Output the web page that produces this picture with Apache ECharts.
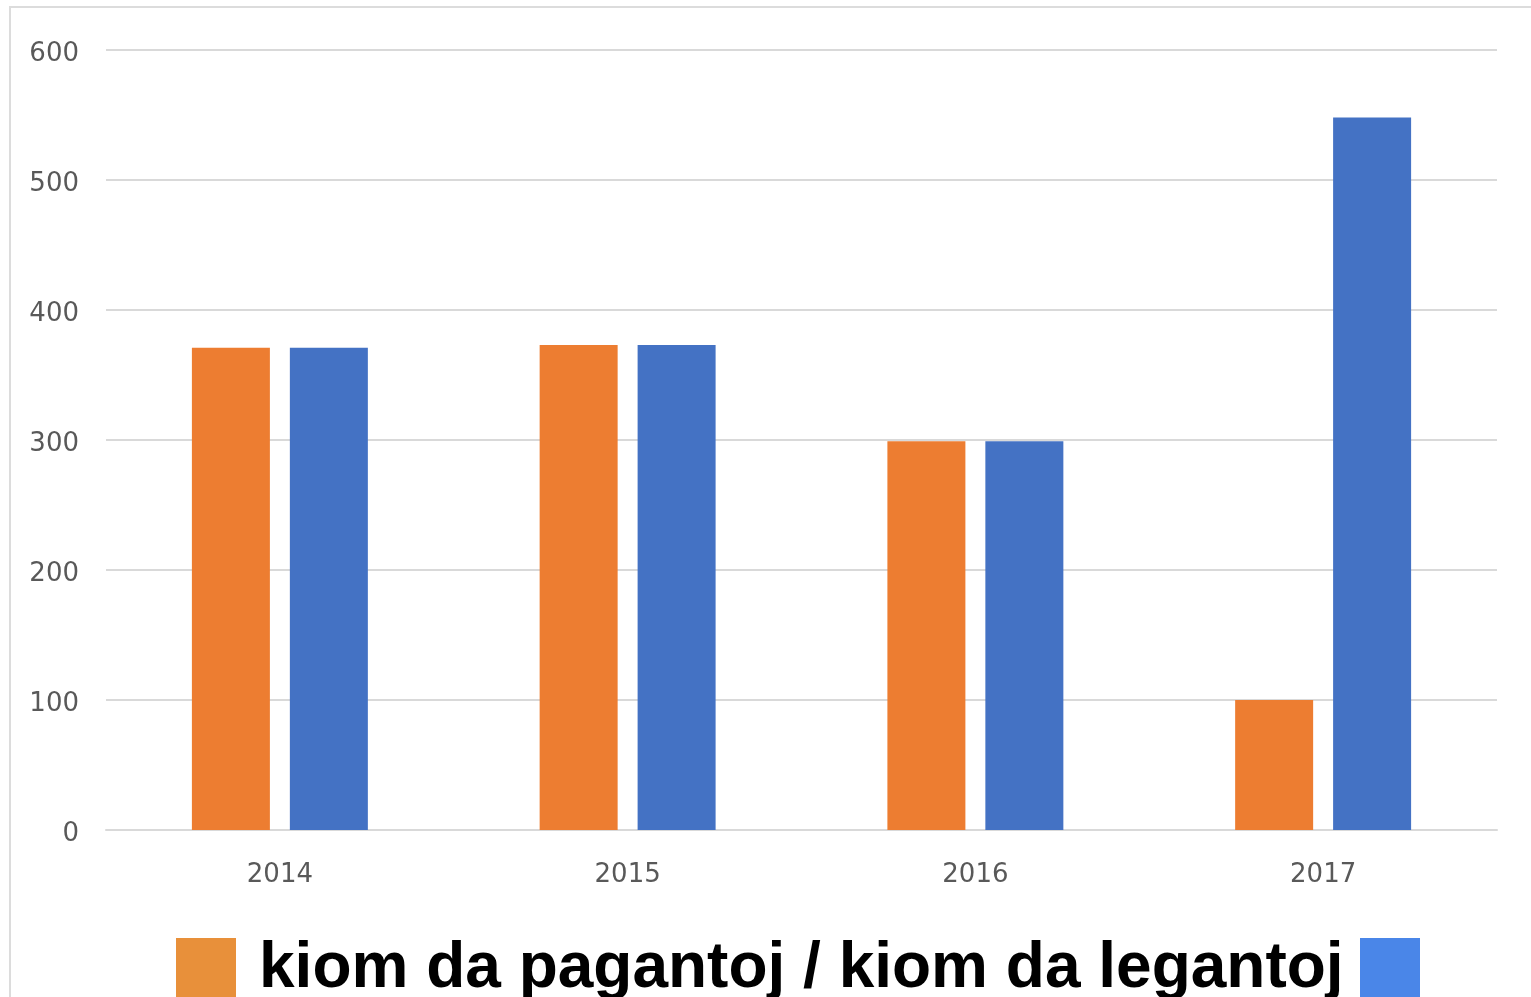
<!DOCTYPE html>
<html>
<head>
<meta charset="utf-8">
<script src="https://cdn.jsdelivr.net/npm/echarts@6/dist/echarts.min.js"></script>
<style>
  html, body { margin: 0; padding: 0; background: #fff; }
  #main { width: 1531px; height: 997px; }
</style>
</head>
<body>
<div id="main"></div>
<script>
// jaroj
const years = ["2014", "2015", "2016", "2017"];
// kiom da pagantoj
const payers = [371, 373, 299, 100];
// kiom da legantoj
const readers = [371, 373, 299, 548];
const yTicks = [0, 100, 200, 300, 400, 500, 600];

const chart = echarts.init(document.getElementById("main"));
chart.setOption({
  animation: false,
  backgroundColor: "#fff",
  grid: {
    left: 106,
    right: 34,
    top: 50,
    bottom: 167,
  },
  xAxis: {
    type: "category",
    data: years,
    axisLine: { show: true, lineStyle: { color: "#d9d9d9", width: 2 } },
    axisTick: { show: false },
    axisLabel: {
      color: "#595959",
      fontSize: 26,
      fontFamily: "DejaVu Sans",
      margin: 32,
    },
  },
  yAxis: {
    type: "value",
    min: yTicks[0],
    max: yTicks[yTicks.length - 1],
    interval: 100,
    axisLine: { show: false },
    axisTick: { show: false },
    splitLine: { lineStyle: { color: "#d9d9d9", width: 2 } },
    axisLabel: {
      margin: 27,
      formatter: "{a|{value}}",
      rich: {
        a: {
          color: "#595959",
          fontSize: 26,
          fontFamily: "DejaVu Sans",
          padding: [9, 0, 0, 0],
        },
      },
    },
  },
  series: [
    {
      name: "kiom da pagantoj",
      type: "bar",
      data: payers,
      barWidth: 78,
      barGap: "25.6%",
      itemStyle: { color: "#ED7D31" },
    },
    {
      name: "kiom da legantoj",
      type: "bar",
      data: readers,
      barWidth: 78,
      itemStyle: { color: "#4472C4" },
    },
  ],
  // kadro kaj legendo
  graphic: [
    { type: "rect", shape: { x: 10, y: 6, width: 1521, height: 2 }, style: { fill: "#dcdcdc" } },
    { type: "rect", shape: { x: 9, y: 6, width: 2, height: 991 }, style: { fill: "#dcdcdc" } },
    { type: "rect", shape: { x: 176, y: 938, width: 60, height: 60 }, style: { fill: "#E8903A" } },
    {
      type: "text",
      x: 259,
      y: 969,
      style: {
        text: "kiom da pagantoj / kiom da legantoj",
        font: "bold 64px 'Liberation Sans', Arial, sans-serif",
        fill: "#000",
        verticalAlign: "middle",
      },
    },
    { type: "rect", shape: { x: 1360, y: 938, width: 60, height: 60 }, style: { fill: "#4A86E8" } },
  ],
});
</script>
</body>
</html>
